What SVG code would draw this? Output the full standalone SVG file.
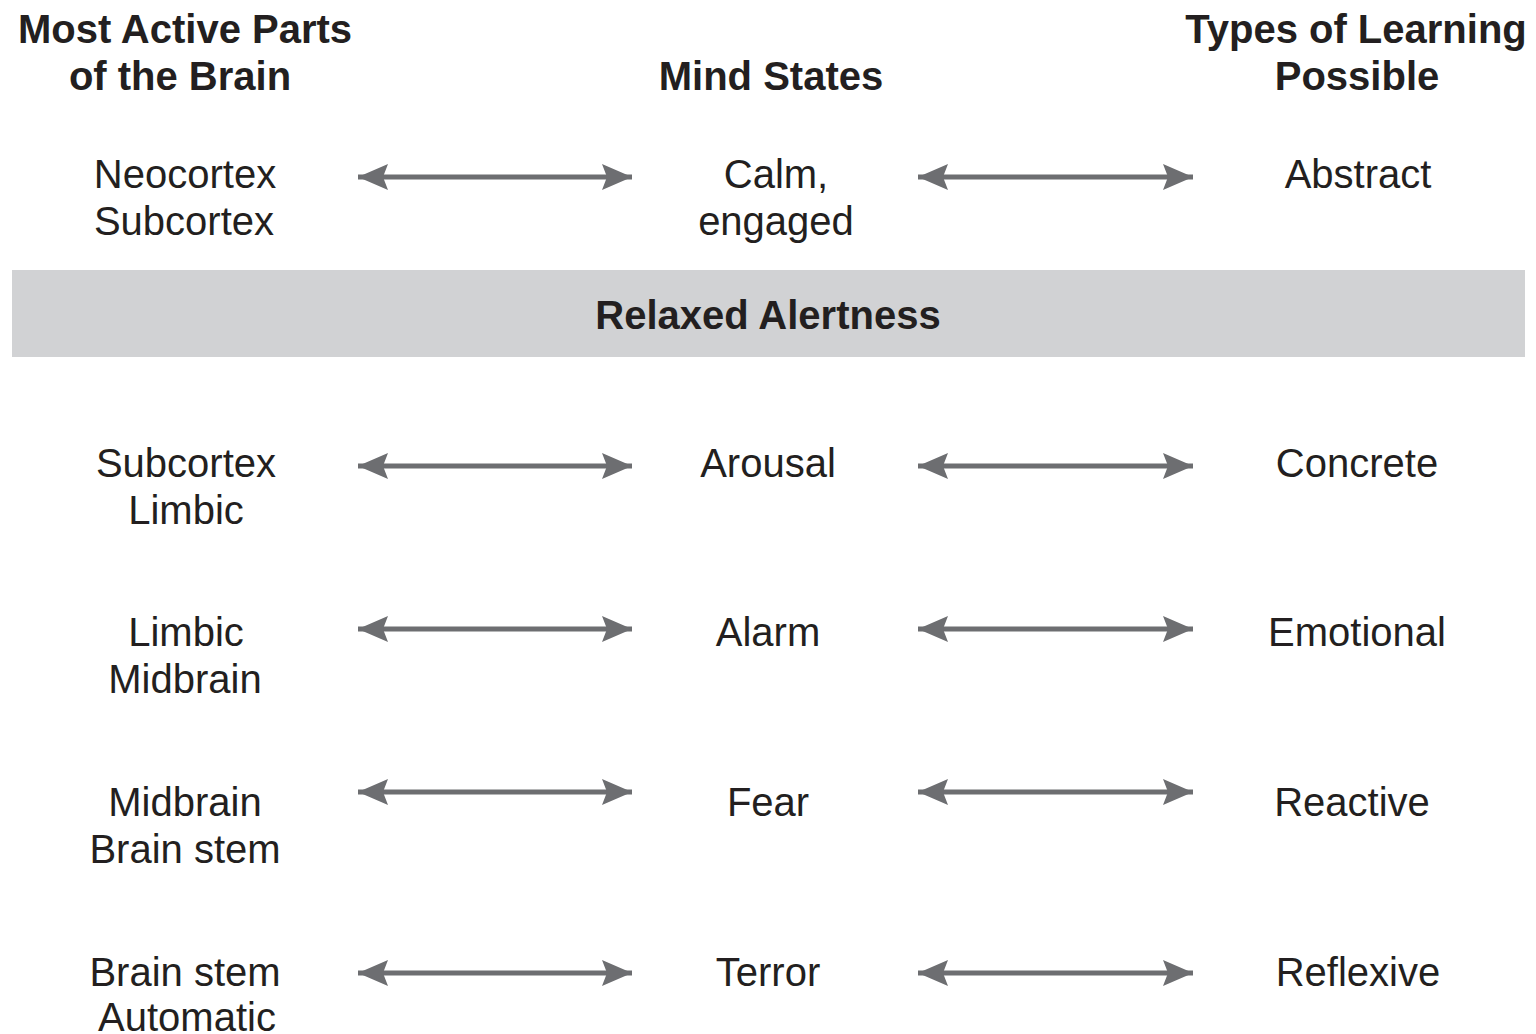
<svg xmlns="http://www.w3.org/2000/svg" width="1536" height="1034" viewBox="0 0 1536 1034">
<defs>
<style>
text{font-family:"Liberation Sans",Arial,sans-serif;font-size:40px;fill:#231f20;text-anchor:middle}
.h{font-weight:bold}
.c line{stroke:#6d6e71;stroke-width:5;marker-start:url(#ah);marker-end:url(#ah)}
</style>
<marker id="ah" viewBox="-32 -14 34 28" refX="0" refY="0" markerWidth="34" markerHeight="28" markerUnits="userSpaceOnUse" orient="auto-start-reverse">
<path d="M0,0 L-30,-13 L-25,0 L-30,13 Z" fill="#6d6e71"/>
</marker>
</defs>
<rect width="1536" height="1034" fill="#fff"/>
<g id="headers">
<text class="h" x="185" y="43">Most Active Parts</text>
<text class="h" x="180" y="90">of the Brain</text>
<text class="h" x="771" y="90">Mind States</text>
<text class="h" x="1356" y="43">Types of Learning</text>
<text class="h" x="1357" y="90">Possible</text>
</g>
<g id="band">
<rect x="12" y="270" width="1513" height="87" fill="#d1d2d4"/>
<text class="h" x="768" y="329">Relaxed Alertness</text>
</g>
<g id="row1-brain"><text x="185" y="188">Neocortex</text><text x="184" y="235">Subcortex</text></g>
<g id="row1-state"><text x="776" y="188">Calm,</text><text x="776" y="235">engaged</text></g>
<g id="row1-learning"><text x="1358" y="188">Abstract</text></g>
<g id="row2-brain"><text x="186" y="477">Subcortex</text><text x="186" y="524">Limbic</text></g>
<g id="row2-state"><text x="768" y="477">Arousal</text></g>
<g id="row2-learning"><text x="1357" y="477">Concrete</text></g>
<g id="row3-brain"><text x="186" y="646">Limbic</text><text x="185" y="693">Midbrain</text></g>
<g id="row3-state"><text x="768" y="646">Alarm</text></g>
<g id="row3-learning"><text x="1357" y="646">Emotional</text></g>
<g id="row4-brain"><text x="185" y="816">Midbrain</text><text x="185" y="863">Brain stem</text></g>
<g id="row4-state"><text x="768" y="816">Fear</text></g>
<g id="row4-learning"><text x="1352" y="816">Reactive</text></g>
<g id="row5-brain"><text x="185" y="986">Brain stem</text><text x="187" y="1031">Automatic</text></g>
<g id="row5-state"><text x="768" y="986">Terror</text></g>
<g id="row5-learning"><text x="1358" y="986">Reflexive</text></g>
<g id="connectors" class="c">
<line x1="358" y1="177" x2="632" y2="177"/>
<line x1="918" y1="177" x2="1193" y2="177"/>
<line x1="358" y1="466" x2="632" y2="466"/>
<line x1="918" y1="466" x2="1193" y2="466"/>
<line x1="358" y1="629" x2="632" y2="629"/>
<line x1="918" y1="629" x2="1193" y2="629"/>
<line x1="358" y1="792" x2="632" y2="792"/>
<line x1="918" y1="792" x2="1193" y2="792"/>
<line x1="358" y1="973" x2="632" y2="973"/>
<line x1="918" y1="973" x2="1193" y2="973"/>
</g>
</svg>
